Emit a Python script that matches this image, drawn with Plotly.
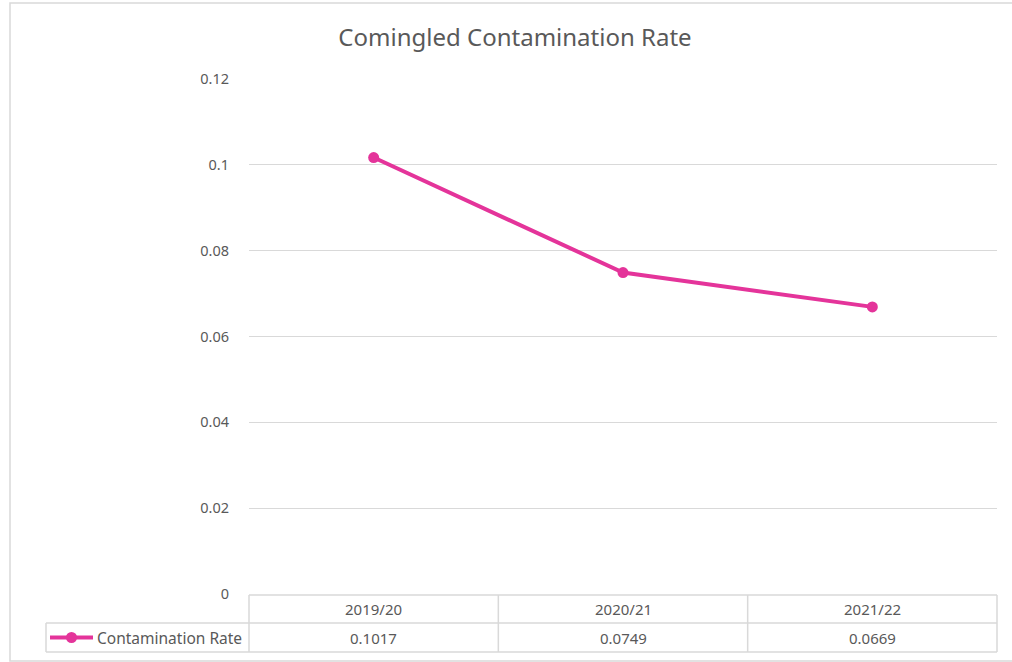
import plotly.graph_objects as go

categories = ["2019/20", "2020/21", "2021/22"]
rates = [0.1017, 0.0749, 0.0669]
series_name = "Contamination Rate"
title_text = "Comingled Contamination Rate"
y_ticks = [0, 0.02, 0.04, 0.06, 0.08, 0.1, 0.12]
y_tick_labels = ["0", "0.02", "0.04", "0.06", "0.08", "0.1", "0.12"]

PINK = "#E4349A"
GRID = "#D9D9D9"
TXT = "#595959"
FONT = "Noto Sans"

W, H = 1012, 662
L, R, T, B = 249, 15, 79, 68
pw, ph = W - L - R, H - T - B

def px_x(x):
    return (x - L) / pw

def px_y(y):
    return (H - B - y) / ph

fig = go.Figure()
fig.add_trace(go.Scatter(
    x=categories, y=rates, mode="lines+markers", name=series_name,
    line=dict(color=PINK, width=4), marker=dict(color=PINK, size=11),
    showlegend=False, cliponaxis=False,
))

shapes = []
line = dict(color=GRID, width=1.5)
# outer chart border
shapes.append(dict(type="rect", xref="paper", yref="paper",
                   x0=px_x(10), x1=px_x(1016), y0=px_y(661), y1=px_y(3),
                   line=dict(color=GRID, width=1.5), layer="below"))
# data table lines
row1, row2, row3 = px_y(595), px_y(623), px_y(652)
shapes.append(dict(type="line", xref="paper", yref="paper", x0=0, x1=1, y0=row1, y1=row1, line=line))
shapes.append(dict(type="line", xref="paper", yref="paper", x0=px_x(46), x1=1, y0=row2, y1=row2, line=line))
shapes.append(dict(type="line", xref="paper", yref="paper", x0=px_x(46), x1=1, y0=row3, y1=row3, line=line))
shapes.append(dict(type="line", xref="paper", yref="paper", x0=px_x(46), x1=px_x(46), y0=row2, y1=row3, line=line))
n = len(categories)
for i in range(n + 1):
    xv = i / n
    shapes.append(dict(type="line", xref="paper", yref="paper", x0=xv, x1=xv, y0=row1, y1=row3, line=line))

# legend key inside the table
key_y = (row2 + row3) / 2
shapes.append(dict(type="line", xref="paper", yref="paper", x0=px_x(50), x1=px_x(93),
                   y0=key_y, y1=key_y, line=dict(color=PINK, width=4)))
shapes.append(dict(type="circle", xref="paper", yref="paper",
                   x0=px_x(66), x1=px_x(77), y0=key_y - 5.5 / ph, y1=key_y + 5.5 / ph,
                   fillcolor=PINK, line=dict(color=PINK, width=0)))

annotations = []
annotations.append(dict(x=px_x(95), xref="paper", y=key_y, yref="paper",
                        xanchor="left", yanchor="middle",
                        text=series_name, showarrow=False,
                        font=dict(family=FONT, size=15.5, color=TXT)))
for i, (c, v) in enumerate(zip(categories, rates)):
    annotations.append(dict(x=c, xref="x", y=(row1 + row2) / 2, yref="paper",
                            xanchor="center", yanchor="middle",
                            text=c, showarrow=False, font=dict(family=FONT, size=15, color=TXT)))
    annotations.append(dict(x=c, xref="x", y=key_y, yref="paper",
                            xanchor="center", yanchor="middle",
                            text=f"{v}", showarrow=False, font=dict(family=FONT, size=15, color=TXT)))

fig.update_layout(
    width=W, height=H,
    margin=dict(l=L, r=R, t=T, b=B),
    paper_bgcolor="white", plot_bgcolor="white",
    title=dict(text=title_text, x=515 / W, xref="container", xanchor="center",
               y=1 - 38 / H, yanchor="middle",
               font=dict(family=FONT, size=24, color=TXT)),
    font=dict(family=FONT, color=TXT),
    showlegend=False,
    xaxis=dict(showticklabels=False, showgrid=False, zeroline=False, showline=False,
               range=[-0.5, n - 0.5], fixedrange=True),
    yaxis=dict(range=[0, 0.12], tickvals=y_ticks, ticktext=y_tick_labels,
               showgrid=True, gridcolor=GRID, gridwidth=1.2, zeroline=False,
               showline=False, ticks="", ticklabelstandoff=19,
               tickfont=dict(family=FONT, size=14.5, color=TXT)),
    shapes=shapes, annotations=annotations,
)

fig.write_html("out.html", config={"displayModeBar": False},
               post_script="document.body.style.margin='0';document.body.style.overflow='hidden';")
